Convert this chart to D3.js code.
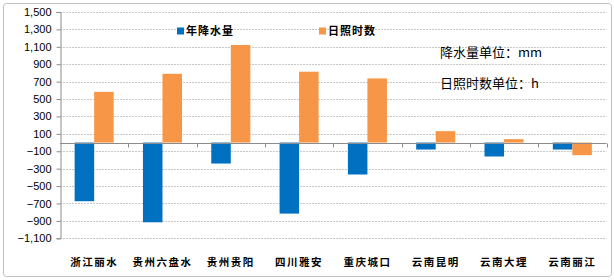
<!DOCTYPE html>
<html>
<head>
<meta charset="utf-8">
<script src="https://cdn.jsdelivr.net/npm/d3@7"></script>
<style>
  body { margin: 0; background: #fff; }
  svg { display: block; }
</style>
</head>
<body>
<div id="container"></div>
<script>
// data
const cities = ["浙江丽水", "贵州六盘水", "贵州贵阳", "四川雅安", "重庆城口", "云南昆明", "云南大理", "云南丽江"];
const rain = [-674, -916, -241, -816, -367, -80, -160, -80];
const sun = [583, 790, 1121, 814, 737, 131, 39, -145];
const seriesNames = ["年降水量", "日照时数"];
const yTicks = d3.range(-1100, 1501, 200);

const width = 614, height = 280;
const margin = { top: 12, right: 8, bottom: 42, left: 60 };

const svg = d3.select("#container").append("svg")
  .attr("width", width)
  .attr("height", height);

// chart frame
svg.append("rect")
  .attr("x", 3.5).attr("y", 3.5)
  .attr("width", 608).attr("height", 273)
  .attr("rx", 3)
  .attr("fill", "#fff")
  .attr("stroke", "#bfbfbf");

const y = d3.scaleLinear()
  .domain([-1100, 1500])
  .range([238.3, margin.top]);

const x = d3.scaleBand()
  .domain(cities)
  .range([margin.left, 606.5]);

const xs = d3.scaleBand()
  .domain([0, 1])
  .range([0, x.bandwidth()])
  .paddingInner(0)
  .paddingOuter(0.75);

// gridlines
svg.append("g")
  .selectAll("line")
  .data(yTicks)
  .join("line")
  .attr("x1", margin.left)
  .attr("x2", 606.5)
  .attr("y1", d => Math.round(y(d)) + 0.5)
  .attr("y2", d => Math.round(y(d)) + 0.5)
  .attr("stroke", "#c8c8c8")
  .attr("stroke-dasharray", "2,1");

// y axis
const yAxis = svg.append("g")
  .attr("transform", `translate(${margin.left + 0.5},0)`)
  .call(d3.axisLeft(y).tickValues(yTicks).tickSize(4).tickFormat(d3.format(",")));
yAxis.select(".domain").attr("stroke", "#8c8c8c");
yAxis.selectAll(".tick line").attr("stroke", "#8c8c8c");
yAxis.selectAll(".tick text")
  .attr("x", -9)
  .attr("fill", "#000")
  .style("font-family", "'Liberation Sans', Arial, sans-serif")
  .style("font-size", "11px");

// bars
const colors = ["#0070c0", "#f79646"];
const groups = svg.append("g")
  .selectAll("g")
  .data(cities)
  .join("g")
  .attr("transform", d => `translate(${x(d)},0)`);

groups.selectAll("rect")
  .data((d, i) => [rain[i], sun[i]])
  .join("rect")
  .attr("x", (d, j) => xs(j))
  .attr("width", xs.bandwidth())
  .attr("y", d => y(Math.max(0, d)))
  .attr("height", d => Math.abs(y(d) - y(0)))
  .attr("fill", (d, j) => colors[j]);

// category axis at zero
const zeroY = Math.round(y(0)) + 0.5;
svg.append("line")
  .attr("x1", margin.left).attr("x2", 606.5)
  .attr("y1", zeroY).attr("y2", zeroY)
  .attr("stroke", "#8c8c8c");
svg.append("g")
  .selectAll("line")
  .data(cities)
  .join("line")
  .attr("x1", d => Math.round(x(d) + x.bandwidth()) + 0.5)
  .attr("x2", d => Math.round(x(d) + x.bandwidth()) + 0.5)
  .attr("y1", zeroY)
  .attr("y2", zeroY + 4)
  .attr("stroke", "#8c8c8c");

// category labels
svg.append("g")
  .selectAll("text")
  .data(cities)
  .join("text")
  .attr("x", d => x(d) + x.bandwidth() / 2)
  .attr("y", 262)
  .attr("dy", "0.35em")
  .attr("text-anchor", "middle")
  .style("font-family", "'Noto Sans CJK SC', sans-serif")
  .style("font-size", "10.5px")
  .style("font-weight", "bold")
  .style("letter-spacing", "1.5px")
  .text(d => d);

// legend
const legendX = [177, 319];
const legend = svg.append("g")
  .selectAll("g")
  .data(seriesNames)
  .join("g")
  .attr("transform", (d, i) => `translate(${legendX[i]},31)`);
legend.append("rect")
  .attr("x", 0).attr("y", -3.5)
  .attr("width", 7).attr("height", 7)
  .attr("fill", (d, i) => colors[i]);
legend.append("text")
  .attr("x", 9)
  .attr("dy", "0.35em")
  .style("font-family", "'Noto Sans CJK SC', sans-serif")
  .style("font-size", "11px")
  .style("font-weight", "bold")
  .style("letter-spacing", "1px")
  .text(d => d);

// unit notes
const notes = ["降水量单位：mm", "日照时数单位：h"];
svg.append("g")
  .selectAll("text")
  .data(notes)
  .join("text")
  .attr("x", 440)
  .attr("y", (d, i) => 52 + i * 31)
  .attr("dy", "0.35em")
  .style("font-family", "'Noto Sans CJK SC', sans-serif")
  .style("font-size", "13px")
  .text(d => d);
</script>
</body>
</html>
